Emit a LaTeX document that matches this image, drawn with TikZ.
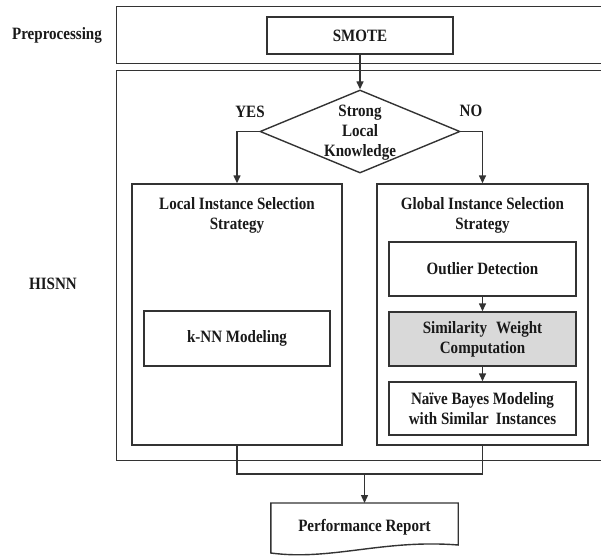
\documentclass[tikz,border=0pt]{standalone}
\usepackage{fontspec}
\setmainfont{Liberation Serif}[FakeStretch=0.87]
\usetikzlibrary{arrows.meta,shapes.geometric,calc}
\begin{document}
\begin{tikzpicture}[x=1pt,y=-1pt,
  every node/.style={font=\fontsize{17.3}{20}\selectfont\bfseries, align=center, text=black!90},
  ln/.style={draw=black!80, line width=1.4pt},
  boxst/.style={ln, rectangle, inner sep=0pt},
  arr/.style={draw=black!80, line width=1.4pt, -{Triangle[length=8pt,width=7pt]}},
  grayfill/.style={fill=black!15}
]
\clip (0,0) rectangle (601,556);
\useasboundingbox (0,0) rectangle (601,556);

% side labels
\node (pre) at (57,35) {Preprocessing};
\node (his) at (53,284) {HISNN};

% group frames (right side runs off the picture)
\node[boxst, anchor=north west, minimum width=500pt, minimum height=57pt] (prebox) at (116,6) {};
\node[boxst, anchor=north west, minimum width=500pt, minimum height=390pt] (hisbox) at (116,70) {};

% SMOTE
\node[boxst, minimum width=186pt, minimum height=37pt] (smote) at (360,35.5) {SMOTE};

% decision
\node[ln, diamond, inner sep=0pt, minimum width=200pt, minimum height=83pt] (dia) at (360,131.5) {};
\node (diatext) at (360,133) {Strong\\Local\\Knowledge};
\node (yes) at (250,112) {YES};
\node (no) at (471,111) {NO};

% strategy frames
\node[boxst, minimum width=210pt, minimum height=261pt] (loc) at (237,314.5) {};
\node[boxst, minimum width=211pt, minimum height=261pt] (glob) at (482.5,314.5) {};
\node (loct) at (237,215) {Local Instance Selection\\Strategy};
\node (globt) at (482.5,215) {Global Instance Selection\\Strategy};

% inner steps
\node[boxst, minimum width=186pt, minimum height=55pt] (knn) at (237,338.5) {k-NN Modeling};
\node[boxst, minimum width=187pt, minimum height=54pt] (out) at (482.5,269) {Outlier Detection};
\node[boxst, grayfill, minimum width=187pt, minimum height=54pt] (sim) at (482.5,339) {Similarity\hspace{0.3em} Weight\\Computation};
\node[boxst, minimum width=187pt, minimum height=53pt] (nb) at (482.5,408.5) {Naïve Bayes Modeling\\with Similar\hspace{0.2em} Instances};

% performance report (document shape)
\node[inner sep=0pt, minimum width=187pt, minimum height=48pt, anchor=north] (perf) at (364.5,503) {Performance Report};
\draw[ln] (perf.north west) -- (perf.north east) -- ($(perf.north east)+(0,42)$)
  .. controls ($(perf.north east)+(-75,36)$) and ($(perf.north west)+(60,58)$) .. ($(perf.north west)+(0,50)$) -- cycle;

% connectors
\draw[arr] (smote.south) -- (dia.north);
\draw[arr] (dia.west) -| (loc.north);
\draw[arr] (dia.east) -| (glob.north);
\draw[arr] (out.south) -- (sim.north);
\draw[arr] (sim.south) -- (nb.north);
\coordinate (jn) at (364.5,474);
\draw[ln] (loc.south) |- (jn) -| (glob.south);
\draw[arr] (jn) -- (perf.north);
\end{tikzpicture}
\end{document}
